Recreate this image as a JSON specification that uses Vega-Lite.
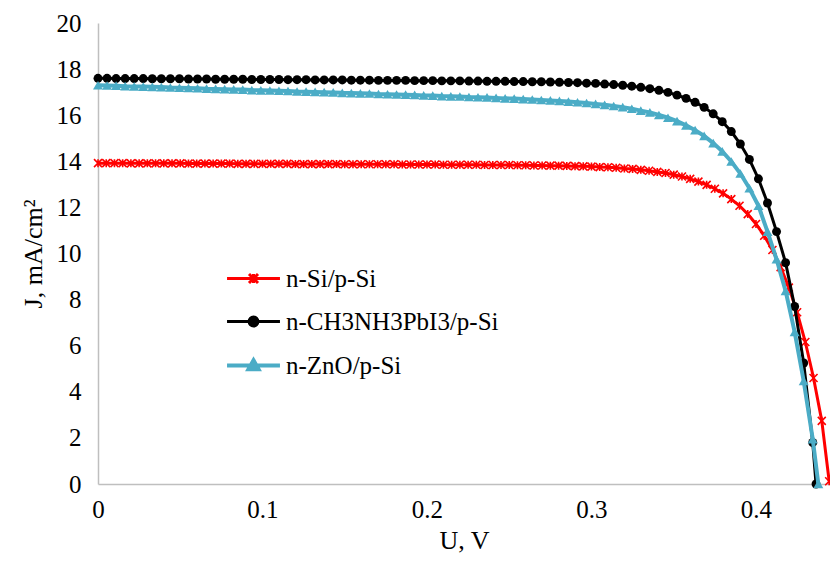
{
  "$schema": "https://vega.github.io/schema/vega-lite/v6.json",
  "width": 732,
  "height": 461,
  "autosize": {"type": "none"},
  "padding": {"left": 98, "top": 23, "right": 0, "bottom": 81},
  "background": "white",
  "config": {"view": {"stroke": null}, "font": "Liberation Serif"},
  "datasets": {
    "red": [
      {"s":"n-Si/p-Si","V":0,"J":13.92},{"s":"n-Si/p-Si","V":0.005,"J":13.92},{"s":"n-Si/p-Si","V":0.01,"J":13.92},{"s":"n-Si/p-Si","V":0.015,"J":13.92},{"s":"n-Si/p-Si","V":0.02,"J":13.91},
      {"s":"n-Si/p-Si","V":0.025,"J":13.91},{"s":"n-Si/p-Si","V":0.03,"J":13.91},{"s":"n-Si/p-Si","V":0.035,"J":13.91},{"s":"n-Si/p-Si","V":0.04,"J":13.91},{"s":"n-Si/p-Si","V":0.045,"J":13.91},
      {"s":"n-Si/p-Si","V":0.05,"J":13.91},{"s":"n-Si/p-Si","V":0.055,"J":13.90},{"s":"n-Si/p-Si","V":0.06,"J":13.90},{"s":"n-Si/p-Si","V":0.065,"J":13.90},{"s":"n-Si/p-Si","V":0.07,"J":13.90},
      {"s":"n-Si/p-Si","V":0.075,"J":13.90},{"s":"n-Si/p-Si","V":0.08,"J":13.90},{"s":"n-Si/p-Si","V":0.085,"J":13.89},{"s":"n-Si/p-Si","V":0.09,"J":13.89},{"s":"n-Si/p-Si","V":0.095,"J":13.89},
      {"s":"n-Si/p-Si","V":0.1,"J":13.89},{"s":"n-Si/p-Si","V":0.105,"J":13.89},{"s":"n-Si/p-Si","V":0.11,"J":13.89},{"s":"n-Si/p-Si","V":0.115,"J":13.89},{"s":"n-Si/p-Si","V":0.12,"J":13.88},
      {"s":"n-Si/p-Si","V":0.125,"J":13.88},{"s":"n-Si/p-Si","V":0.13,"J":13.88},{"s":"n-Si/p-Si","V":0.135,"J":13.88},{"s":"n-Si/p-Si","V":0.14,"J":13.88},{"s":"n-Si/p-Si","V":0.145,"J":13.88},
      {"s":"n-Si/p-Si","V":0.15,"J":13.87},{"s":"n-Si/p-Si","V":0.155,"J":13.87},{"s":"n-Si/p-Si","V":0.16,"J":13.87},{"s":"n-Si/p-Si","V":0.165,"J":13.87},{"s":"n-Si/p-Si","V":0.17,"J":13.87},
      {"s":"n-Si/p-Si","V":0.175,"J":13.87},{"s":"n-Si/p-Si","V":0.18,"J":13.87},{"s":"n-Si/p-Si","V":0.185,"J":13.86},{"s":"n-Si/p-Si","V":0.19,"J":13.86},{"s":"n-Si/p-Si","V":0.195,"J":13.86},
      {"s":"n-Si/p-Si","V":0.2,"J":13.86},{"s":"n-Si/p-Si","V":0.205,"J":13.86},{"s":"n-Si/p-Si","V":0.21,"J":13.85},{"s":"n-Si/p-Si","V":0.215,"J":13.85},{"s":"n-Si/p-Si","V":0.22,"J":13.85},
      {"s":"n-Si/p-Si","V":0.225,"J":13.85},{"s":"n-Si/p-Si","V":0.23,"J":13.85},{"s":"n-Si/p-Si","V":0.235,"J":13.84},{"s":"n-Si/p-Si","V":0.24,"J":13.84},{"s":"n-Si/p-Si","V":0.245,"J":13.84},
      {"s":"n-Si/p-Si","V":0.25,"J":13.84},{"s":"n-Si/p-Si","V":0.255,"J":13.83},{"s":"n-Si/p-Si","V":0.26,"J":13.83},{"s":"n-Si/p-Si","V":0.265,"J":13.82},{"s":"n-Si/p-Si","V":0.27,"J":13.82},
      {"s":"n-Si/p-Si","V":0.275,"J":13.81},{"s":"n-Si/p-Si","V":0.28,"J":13.81},{"s":"n-Si/p-Si","V":0.285,"J":13.80},{"s":"n-Si/p-Si","V":0.29,"J":13.79},{"s":"n-Si/p-Si","V":0.295,"J":13.78},
      {"s":"n-Si/p-Si","V":0.3,"J":13.77},{"s":"n-Si/p-Si","V":0.305,"J":13.75},{"s":"n-Si/p-Si","V":0.31,"J":13.74},{"s":"n-Si/p-Si","V":0.315,"J":13.72},{"s":"n-Si/p-Si","V":0.32,"J":13.69},
      {"s":"n-Si/p-Si","V":0.325,"J":13.67},{"s":"n-Si/p-Si","V":0.33,"J":13.63},{"s":"n-Si/p-Si","V":0.335,"J":13.59},{"s":"n-Si/p-Si","V":0.34,"J":13.54},{"s":"n-Si/p-Si","V":0.345,"J":13.49},
      {"s":"n-Si/p-Si","V":0.35,"J":13.42},{"s":"n-Si/p-Si","V":0.355,"J":13.34},{"s":"n-Si/p-Si","V":0.36,"J":13.24},{"s":"n-Si/p-Si","V":0.365,"J":13.12},{"s":"n-Si/p-Si","V":0.37,"J":12.98},
      {"s":"n-Si/p-Si","V":0.375,"J":12.81},{"s":"n-Si/p-Si","V":0.38,"J":12.61},{"s":"n-Si/p-Si","V":0.385,"J":12.36},{"s":"n-Si/p-Si","V":0.39,"J":12.07},{"s":"n-Si/p-Si","V":0.395,"J":11.71},
      {"s":"n-Si/p-Si","V":0.4,"J":11.28},{"s":"n-Si/p-Si","V":0.405,"J":10.77},{"s":"n-Si/p-Si","V":0.41,"J":10.15},{"s":"n-Si/p-Si","V":0.415,"J":9.41},{"s":"n-Si/p-Si","V":0.42,"J":8.52},
      {"s":"n-Si/p-Si","V":0.425,"J":7.45},{"s":"n-Si/p-Si","V":0.43,"J":6.16},{"s":"n-Si/p-Si","V":0.435,"J":4.60},{"s":"n-Si/p-Si","V":0.44,"J":2.74},{"s":"n-Si/p-Si","V":0.4445,"J":0.12}
    ],
    "black": [
      {"s":"n-CH3NH3PbI3/p-Si","V":0,"J":17.60},{"s":"n-CH3NH3PbI3/p-Si","V":0.0055,"J":17.60},{"s":"n-CH3NH3PbI3/p-Si","V":0.011,"J":17.59},{"s":"n-CH3NH3PbI3/p-Si","V":0.0165,"J":17.59},{"s":"n-CH3NH3PbI3/p-Si","V":0.022,"J":17.59},
      {"s":"n-CH3NH3PbI3/p-Si","V":0.0275,"J":17.59},{"s":"n-CH3NH3PbI3/p-Si","V":0.033,"J":17.58},{"s":"n-CH3NH3PbI3/p-Si","V":0.0385,"J":17.58},{"s":"n-CH3NH3PbI3/p-Si","V":0.044,"J":17.58},{"s":"n-CH3NH3PbI3/p-Si","V":0.0495,"J":17.58},
      {"s":"n-CH3NH3PbI3/p-Si","V":0.055,"J":17.57},{"s":"n-CH3NH3PbI3/p-Si","V":0.0605,"J":17.57},{"s":"n-CH3NH3PbI3/p-Si","V":0.066,"J":17.57},{"s":"n-CH3NH3PbI3/p-Si","V":0.0715,"J":17.56},{"s":"n-CH3NH3PbI3/p-Si","V":0.077,"J":17.56},
      {"s":"n-CH3NH3PbI3/p-Si","V":0.0825,"J":17.56},{"s":"n-CH3NH3PbI3/p-Si","V":0.088,"J":17.56},{"s":"n-CH3NH3PbI3/p-Si","V":0.0935,"J":17.55},{"s":"n-CH3NH3PbI3/p-Si","V":0.099,"J":17.55},{"s":"n-CH3NH3PbI3/p-Si","V":0.1045,"J":17.55},
      {"s":"n-CH3NH3PbI3/p-Si","V":0.11,"J":17.55},{"s":"n-CH3NH3PbI3/p-Si","V":0.1155,"J":17.54},{"s":"n-CH3NH3PbI3/p-Si","V":0.121,"J":17.54},{"s":"n-CH3NH3PbI3/p-Si","V":0.1265,"J":17.54},{"s":"n-CH3NH3PbI3/p-Si","V":0.132,"J":17.53},
      {"s":"n-CH3NH3PbI3/p-Si","V":0.1375,"J":17.53},{"s":"n-CH3NH3PbI3/p-Si","V":0.143,"J":17.53},{"s":"n-CH3NH3PbI3/p-Si","V":0.1485,"J":17.53},{"s":"n-CH3NH3PbI3/p-Si","V":0.154,"J":17.52},{"s":"n-CH3NH3PbI3/p-Si","V":0.1595,"J":17.52},
      {"s":"n-CH3NH3PbI3/p-Si","V":0.165,"J":17.52},{"s":"n-CH3NH3PbI3/p-Si","V":0.1705,"J":17.51},{"s":"n-CH3NH3PbI3/p-Si","V":0.176,"J":17.51},{"s":"n-CH3NH3PbI3/p-Si","V":0.1815,"J":17.51},{"s":"n-CH3NH3PbI3/p-Si","V":0.187,"J":17.51},
      {"s":"n-CH3NH3PbI3/p-Si","V":0.1925,"J":17.50},{"s":"n-CH3NH3PbI3/p-Si","V":0.198,"J":17.50},{"s":"n-CH3NH3PbI3/p-Si","V":0.2035,"J":17.50},{"s":"n-CH3NH3PbI3/p-Si","V":0.209,"J":17.49},{"s":"n-CH3NH3PbI3/p-Si","V":0.2145,"J":17.49},
      {"s":"n-CH3NH3PbI3/p-Si","V":0.22,"J":17.49},{"s":"n-CH3NH3PbI3/p-Si","V":0.2255,"J":17.48},{"s":"n-CH3NH3PbI3/p-Si","V":0.231,"J":17.48},{"s":"n-CH3NH3PbI3/p-Si","V":0.2365,"J":17.47},{"s":"n-CH3NH3PbI3/p-Si","V":0.242,"J":17.47},
      {"s":"n-CH3NH3PbI3/p-Si","V":0.2475,"J":17.47},{"s":"n-CH3NH3PbI3/p-Si","V":0.253,"J":17.46},{"s":"n-CH3NH3PbI3/p-Si","V":0.2585,"J":17.46},{"s":"n-CH3NH3PbI3/p-Si","V":0.264,"J":17.45},{"s":"n-CH3NH3PbI3/p-Si","V":0.2695,"J":17.45},
      {"s":"n-CH3NH3PbI3/p-Si","V":0.275,"J":17.44},{"s":"n-CH3NH3PbI3/p-Si","V":0.2805,"J":17.43},{"s":"n-CH3NH3PbI3/p-Si","V":0.286,"J":17.42},{"s":"n-CH3NH3PbI3/p-Si","V":0.2915,"J":17.41},{"s":"n-CH3NH3PbI3/p-Si","V":0.297,"J":17.39},
      {"s":"n-CH3NH3PbI3/p-Si","V":0.3025,"J":17.38},{"s":"n-CH3NH3PbI3/p-Si","V":0.308,"J":17.35},{"s":"n-CH3NH3PbI3/p-Si","V":0.3135,"J":17.33},{"s":"n-CH3NH3PbI3/p-Si","V":0.319,"J":17.30},{"s":"n-CH3NH3PbI3/p-Si","V":0.3245,"J":17.26},
      {"s":"n-CH3NH3PbI3/p-Si","V":0.33,"J":17.21},{"s":"n-CH3NH3PbI3/p-Si","V":0.3355,"J":17.15},{"s":"n-CH3NH3PbI3/p-Si","V":0.341,"J":17.08},{"s":"n-CH3NH3PbI3/p-Si","V":0.3465,"J":16.99},{"s":"n-CH3NH3PbI3/p-Si","V":0.352,"J":16.87},
      {"s":"n-CH3NH3PbI3/p-Si","V":0.3575,"J":16.73},{"s":"n-CH3NH3PbI3/p-Si","V":0.363,"J":16.56},{"s":"n-CH3NH3PbI3/p-Si","V":0.3685,"J":16.34},{"s":"n-CH3NH3PbI3/p-Si","V":0.374,"J":16.06},{"s":"n-CH3NH3PbI3/p-Si","V":0.3795,"J":15.72},
      {"s":"n-CH3NH3PbI3/p-Si","V":0.385,"J":15.29},{"s":"n-CH3NH3PbI3/p-Si","V":0.3905,"J":14.75},{"s":"n-CH3NH3PbI3/p-Si","V":0.396,"J":14.08},{"s":"n-CH3NH3PbI3/p-Si","V":0.4015,"J":13.24},{"s":"n-CH3NH3PbI3/p-Si","V":0.407,"J":12.19},
      {"s":"n-CH3NH3PbI3/p-Si","V":0.4125,"J":10.95},{"s":"n-CH3NH3PbI3/p-Si","V":0.418,"J":9.60},{"s":"n-CH3NH3PbI3/p-Si","V":0.4235,"J":7.70},{"s":"n-CH3NH3PbI3/p-Si","V":0.429,"J":5.25},{"s":"n-CH3NH3PbI3/p-Si","V":0.4345,"J":1.80},
      {"s":"n-CH3NH3PbI3/p-Si","V":0.4365,"J":0}
    ],
    "cyan": [
      {"s":"n-ZnO/p-Si","V":0,"J":17.30},{"s":"n-ZnO/p-Si","V":0.0055,"J":17.29},{"s":"n-ZnO/p-Si","V":0.011,"J":17.28},{"s":"n-ZnO/p-Si","V":0.0165,"J":17.26},{"s":"n-ZnO/p-Si","V":0.022,"J":17.25},
      {"s":"n-ZnO/p-Si","V":0.0275,"J":17.24},{"s":"n-ZnO/p-Si","V":0.033,"J":17.23},{"s":"n-ZnO/p-Si","V":0.0385,"J":17.22},{"s":"n-ZnO/p-Si","V":0.044,"J":17.20},{"s":"n-ZnO/p-Si","V":0.0495,"J":17.19},
      {"s":"n-ZnO/p-Si","V":0.055,"J":17.18},{"s":"n-ZnO/p-Si","V":0.0605,"J":17.17},{"s":"n-ZnO/p-Si","V":0.066,"J":17.15},{"s":"n-ZnO/p-Si","V":0.0715,"J":17.14},{"s":"n-ZnO/p-Si","V":0.077,"J":17.13},
      {"s":"n-ZnO/p-Si","V":0.0825,"J":17.12},{"s":"n-ZnO/p-Si","V":0.088,"J":17.11},{"s":"n-ZnO/p-Si","V":0.0935,"J":17.09},{"s":"n-ZnO/p-Si","V":0.099,"J":17.08},{"s":"n-ZnO/p-Si","V":0.1045,"J":17.07},
      {"s":"n-ZnO/p-Si","V":0.11,"J":17.06},{"s":"n-ZnO/p-Si","V":0.1155,"J":17.05},{"s":"n-ZnO/p-Si","V":0.121,"J":17.03},{"s":"n-ZnO/p-Si","V":0.1265,"J":17.02},{"s":"n-ZnO/p-Si","V":0.132,"J":17.01},
      {"s":"n-ZnO/p-Si","V":0.1375,"J":17.00},{"s":"n-ZnO/p-Si","V":0.143,"J":16.99},{"s":"n-ZnO/p-Si","V":0.1485,"J":16.97},{"s":"n-ZnO/p-Si","V":0.154,"J":16.96},{"s":"n-ZnO/p-Si","V":0.1595,"J":16.95},
      {"s":"n-ZnO/p-Si","V":0.165,"J":16.94},{"s":"n-ZnO/p-Si","V":0.1705,"J":16.92},{"s":"n-ZnO/p-Si","V":0.176,"J":16.91},{"s":"n-ZnO/p-Si","V":0.1815,"J":16.90},{"s":"n-ZnO/p-Si","V":0.187,"J":16.89},
      {"s":"n-ZnO/p-Si","V":0.1925,"J":16.88},{"s":"n-ZnO/p-Si","V":0.198,"J":16.86},{"s":"n-ZnO/p-Si","V":0.2035,"J":16.85},{"s":"n-ZnO/p-Si","V":0.209,"J":16.83},{"s":"n-ZnO/p-Si","V":0.2145,"J":16.82},
      {"s":"n-ZnO/p-Si","V":0.22,"J":16.81},{"s":"n-ZnO/p-Si","V":0.2255,"J":16.79},{"s":"n-ZnO/p-Si","V":0.231,"J":16.78},{"s":"n-ZnO/p-Si","V":0.2365,"J":16.77},{"s":"n-ZnO/p-Si","V":0.242,"J":16.75},
      {"s":"n-ZnO/p-Si","V":0.2475,"J":16.73},{"s":"n-ZnO/p-Si","V":0.253,"J":16.72},{"s":"n-ZnO/p-Si","V":0.2585,"J":16.70},{"s":"n-ZnO/p-Si","V":0.264,"J":16.68},{"s":"n-ZnO/p-Si","V":0.2695,"J":16.66},
      {"s":"n-ZnO/p-Si","V":0.275,"J":16.64},{"s":"n-ZnO/p-Si","V":0.2805,"J":16.62},{"s":"n-ZnO/p-Si","V":0.286,"J":16.59},{"s":"n-ZnO/p-Si","V":0.2915,"J":16.56},{"s":"n-ZnO/p-Si","V":0.297,"J":16.53},
      {"s":"n-ZnO/p-Si","V":0.3025,"J":16.49},{"s":"n-ZnO/p-Si","V":0.308,"J":16.45},{"s":"n-ZnO/p-Si","V":0.3135,"J":16.40},{"s":"n-ZnO/p-Si","V":0.319,"J":16.35},{"s":"n-ZnO/p-Si","V":0.3245,"J":16.28},
      {"s":"n-ZnO/p-Si","V":0.33,"J":16.20},{"s":"n-ZnO/p-Si","V":0.3355,"J":16.12},{"s":"n-ZnO/p-Si","V":0.341,"J":16.01},{"s":"n-ZnO/p-Si","V":0.3465,"J":15.89},{"s":"n-ZnO/p-Si","V":0.352,"J":15.74},
      {"s":"n-ZnO/p-Si","V":0.3575,"J":15.56},{"s":"n-ZnO/p-Si","V":0.363,"J":15.35},{"s":"n-ZnO/p-Si","V":0.3685,"J":15.10},{"s":"n-ZnO/p-Si","V":0.374,"J":14.79},{"s":"n-ZnO/p-Si","V":0.3795,"J":14.43},
      {"s":"n-ZnO/p-Si","V":0.385,"J":13.99},{"s":"n-ZnO/p-Si","V":0.3905,"J":13.47},{"s":"n-ZnO/p-Si","V":0.396,"J":12.83},{"s":"n-ZnO/p-Si","V":0.4015,"J":12.07},{"s":"n-ZnO/p-Si","V":0.407,"J":10.95},
      {"s":"n-ZnO/p-Si","V":0.4125,"J":9.75},{"s":"n-ZnO/p-Si","V":0.418,"J":8.38},{"s":"n-ZnO/p-Si","V":0.4235,"J":6.60},{"s":"n-ZnO/p-Si","V":0.429,"J":4.47},{"s":"n-ZnO/p-Si","V":0.4345,"J":1.95},
      {"s":"n-ZnO/p-Si","V":0.4379,"J":0}
    ]
  },
  "encoding": {
    "x": {
      "field": "V", "type": "quantitative",
      "scale": {"domain": [0, 0.445], "nice": false},
      "axis": {
        "title": "U, V", "values": [0, 0.1, 0.2, 0.3, 0.4], "format": "~g",
        "grid": false, "ticks": false, "labelFlush": false,
        "domainColor": "#bfbfbf", "domainWidth": 1.5,
        "labelFont": "Liberation Serif", "labelFontSize": 25, "labelColor": "#000000", "labelPadding": 13,
        "titleFont": "Liberation Serif", "titleFontSize": 26, "titleFontWeight": "normal", "titleColor": "#000000", "titlePadding": 5
      }
    },
    "y": {
      "field": "J", "type": "quantitative",
      "scale": {"domain": [0, 20], "nice": false},
      "axis": {
        "title": "J, mA/cm²", "values": [0, 2, 4, 6, 8, 10, 12, 14, 16, 18, 20],
        "grid": false, "ticks": false,
        "domainColor": "#bfbfbf", "domainWidth": 1.5,
        "labelFont": "Liberation Serif", "labelFontSize": 25, "labelColor": "#000000", "labelPadding": 17,
        "titleFont": "Liberation Serif", "titleFontSize": 26, "titleFontWeight": "normal", "titleColor": "#000000", "titlePadding": 10
      }
    }
  },
  "layer": [
    {
      "data": {"name": "red"},
      "mark": {"type": "line", "strokeWidth": 3},
      "encoding": {
        "color": {
          "field": "s", "type": "nominal",
          "scale": {"domain": ["n-Si/p-Si", "n-CH3NH3PbI3/p-Si", "n-ZnO/p-Si"], "range": ["#ff0000", "#000000", "#4bacc6"]},
          "legend": {
            "title": null, "orient": "none", "legendX": 143, "legendY": 243,
            "padding": 0, "symbolSize": 441, "rowPadding": 17, "labelOffset": 20, "labelLimit": 0,
            "labelFont": "Liberation Serif", "labelFontSize": 25, "labelColor": "#000000",
            "encode": {
              "symbols": {
                "update": {
                  "shape": {"signal": "datum.value === 'n-Si/p-Si' ? 'M-2.52,0H2.52M-0.43,-0.43L0.43,0.43M-0.43,0.43L0.43,-0.43M0,-0.43V0.43' : datum.value === 'n-CH3NH3PbI3/p-Si' ? 'M-2.52,0H2.52M-0.42,0A0.42,0.42 0 1,0 0.42,0A0.42,0.42 0 1,0 -0.42,0Z' : 'M-2.52,0H2.52M-0.48,0.36L0,-0.5L0.48,0.36Z'"},
                  "fill": {"signal": "datum.value === 'n-Si/p-Si' ? 'transparent' : datum.value === 'n-CH3NH3PbI3/p-Si' ? '#000000' : '#4bacc6'"},
                  "stroke": {"signal": "datum.value === 'n-Si/p-Si' ? '#ff0000' : datum.value === 'n-CH3NH3PbI3/p-Si' ? '#000000' : '#4bacc6'"},
                  "strokeWidth": {"signal": "datum.value === 'n-ZnO/p-Si' ? 4 : 3"},
                  "opacity": {"value": 1}
                }
              }
            }
          }
        }
      }
    },
    {
      "data": {"name": "red"},
      "mark": {"type": "point", "shape": "M-1,-1L1,1M-1,1L1,-1M0,-1V1", "size": 64, "filled": false, "strokeWidth": 1.6, "opacity": 1},
      "encoding": {"color": {"field": "s", "type": "nominal"}}
    },
    {
      "data": {"name": "black"},
      "mark": {"type": "line", "strokeWidth": 3},
      "encoding": {"color": {"field": "s", "type": "nominal"}}
    },
    {
      "data": {"name": "black"},
      "mark": {"type": "point", "shape": "circle", "size": 80, "filled": true, "opacity": 1},
      "encoding": {"color": {"field": "s", "type": "nominal"}}
    },
    {
      "data": {"name": "cyan"},
      "mark": {"type": "line", "strokeWidth": 4},
      "encoding": {"color": {"field": "s", "type": "nominal"}}
    },
    {
      "data": {"name": "cyan"},
      "mark": {"type": "point", "shape": "triangle-up", "size": 100, "filled": true, "opacity": 1},
      "encoding": {"color": {"field": "s", "type": "nominal"}}
    }
  ]
}
